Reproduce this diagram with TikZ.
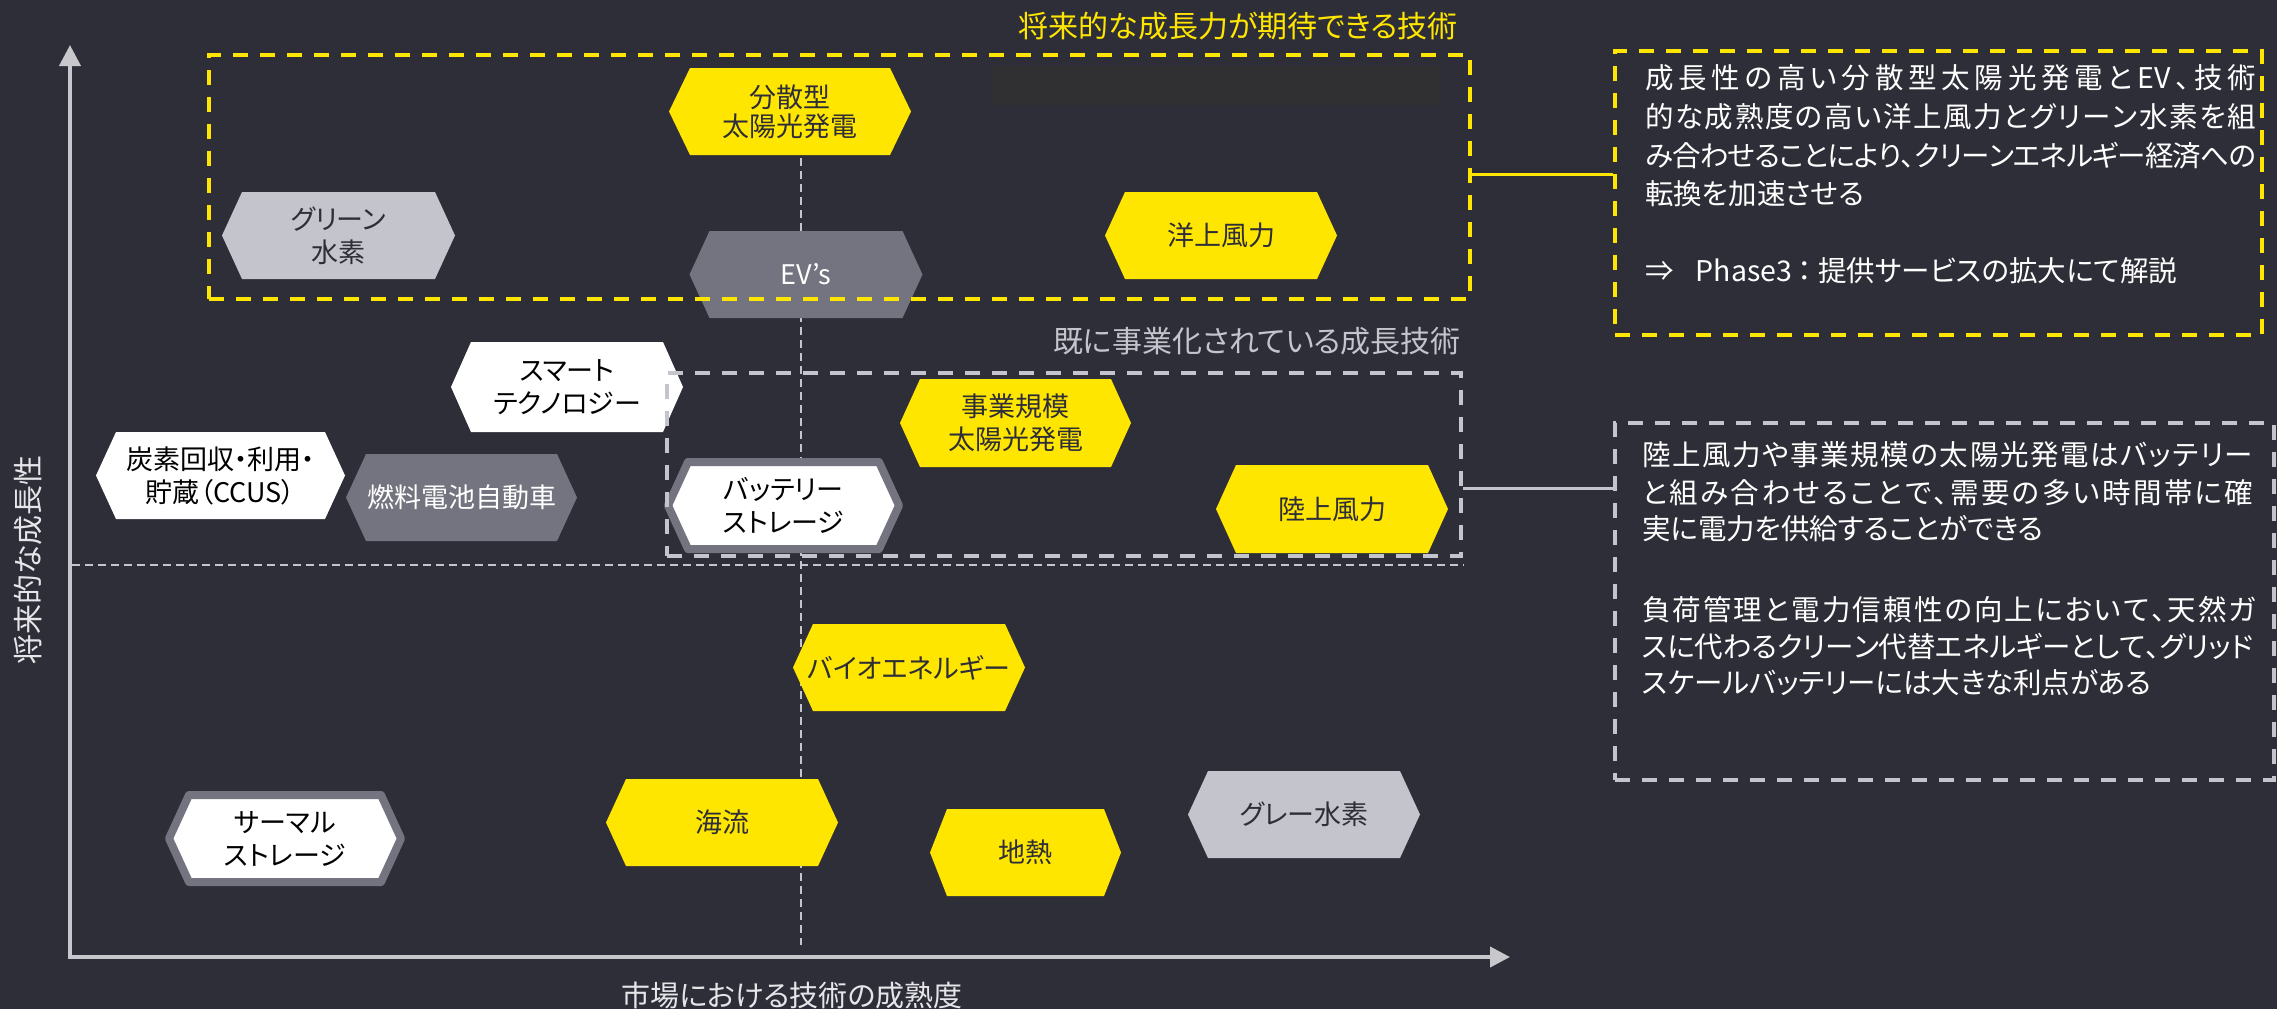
\documentclass[tikz,border=0pt]{standalone}
\usepackage{fontspec}
\setmainfont[RawFeature=+palt]{Noto Sans CJK JP}
\usetikzlibrary{arrows.meta}
\definecolor{bg}{HTML}{2E2E38}
\definecolor{eyy}{HTML}{FFE600}
\definecolor{g74}{HTML}{747480}
\definecolor{gC4}{HTML}{C4C4CD}
\definecolor{axiscol}{HTML}{C8C8CC}
\definecolor{ink}{HTML}{2E2E38}
\definecolor{patch}{HTML}{303032}
\definecolor{soft}{HTML}{E6E6EA}

% #1 name, #2 cx, #3 cy, #4 half width, #5 half height, #6 inset, #7 shape style, #8 text style, #9 text
\newcommand\hexa[9]{%
  \path[#7] ({#2-#4},#3) -- ({#2-#4+#6},{#3-#5}) -- ({#2+#4-#6},{#3-#5}) -- ({#2+#4},#3)
     -- ({#2+#4-#6},{#3+#5}) -- ({#2-#4+#6},{#3+#5}) -- cycle;
  \node[hexlbl,#8] (#1) at (#2,#3) {#9};
}
% justify one line to a given width by spreading glue between characters
\def\spreadend{}
\def\spreadendmark{\spreadend}
\def\spreadtext#1{\spreadfirst#1\spreadend}
\def\spreadfirst#1{#1\spreadrest}
\def\spreadrest#1{\def\sparg{#1}\ifx\sparg\spreadendmark\else\hskip 0pt plus 1fil minus 3pt\relax #1\expandafter\spreadrest\fi}
\newcommand\fullline[2]{\makebox[#1][s]{\spreadtext{#2}}}

\begin{document}
\begin{tikzpicture}[x=1pt,y=-1pt,
  hexlbl/.style={align=center, inner sep=0pt, font=\fontsize{27}{33}\selectfont},
  yfill/.style={fill=eyy},
  lgfill/.style={fill=gC4},
  dgfill/.style={fill=g74},
  wfill/.style={fill=white},
  wbord/.style={fill=white, draw=g74, line width=8pt, line join=round},
  darktxt/.style={text=ink},
  whitetxt/.style={text=white},
  blacktxt/.style={text=black},
  ydash/.style={draw=eyy, line width=4pt, dash pattern=on 15pt off 12pt},
  gdash/.style={draw=gC4, line width=4pt, dash pattern=on 15pt off 12pt},
  finedash/.style={draw=gC4, line width=2pt, dash pattern=on 8pt off 5pt},
  axisline/.style={draw=axiscol, line width=4pt},
  paneltxt/.style={anchor=west, inner sep=0pt, text=white, font=\fontsize{28.5}{38}\selectfont},
]
\useasboundingbox (0,0) rectangle (2277,1009);
\fill[bg] (0,0) rectangle (2277,1009);
\fill[patch] (992,66) rectangle (1439,105);

% grid lines
\draw[finedash] (801,158) -- (801,945);
\draw[finedash] (72,565) -- (1464,565);

% axes
\coordinate (origin) at (70,957);
\coordinate (ytip) at (70,45);
\coordinate (xtip) at (1510,957);
\draw[axisline, -{Triangle[length=21pt,width=21pt]}] ([yshift=-2pt]origin) -- (ytip);
\draw[axisline, -{Triangle[length=20pt,width=20pt]}] ([xshift=-2pt]origin) -- (xtip);

% hexagons
\hexa{bunsan}{790}{111.5}{121}{43.5}{21}{yfill}{darktxt,font=\fontsize{27}{29}\selectfont}{分散型\\太陽光発電}
\hexa{greenh}{338.5}{235.5}{116.5}{43.5}{20}{lgfill}{darktxt}{グリーン\\水素}
\hexa{ev}{806}{274.5}{116.5}{43.5}{20}{dgfill}{whitetxt}{EV’s}
\hexa{yojo}{1221}{235.5}{116}{43.5}{20}{yfill}{darktxt}{洋上風力}
\hexa{smart}{567}{387}{116}{45}{20}{wfill}{blacktxt}{スマート\\テクノロジー}
\hexa{ccus}{220.5}{475.5}{124.5}{43.5}{20}{wfill}{blacktxt}{炭素回収・利用・\\貯蔵（CCUS）}
\hexa{fuel}{461.5}{497.5}{115.5}{43.5}{20}{dgfill}{whitetxt}{燃料電池自動車}
\hexa{battery}{783.5}{505.5}{115.5}{43.5}{20}{wbord}{blacktxt}{バッテリー\\ストレージ}
\hexa{jigyo}{1015.5}{423}{115.5}{44}{20}{yfill}{darktxt}{事業規模\\太陽光発電}
\hexa{rikujo}{1332}{509}{116}{44}{20}{yfill}{darktxt}{陸上風力}
\hexa{bio}{909}{667.5}{116}{43.5}{20}{yfill}{darktxt}{バイオエネルギー}
\hexa{kairyu}{722}{822.5}{116}{43.5}{20}{yfill}{darktxt}{海流}
\hexa{chinetsu}{1025.5}{852.5}{95.5}{43.5}{17}{yfill}{darktxt}{地熱}
\hexa{grayh}{1304}{814.5}{116}{43.5}{20}{lgfill}{darktxt}{グレー水素}
\hexa{thermal}{285}{838.5}{116}{43.5}{20}{wbord}{blacktxt}{サーマル\\ストレージ}

% dashed group boxes
\node[ydash, minimum width=1261pt, minimum height=244pt, inner sep=0pt] (yellowbox) at (839.5,177) {};
\node[gdash, minimum width=794pt, minimum height=183pt, inner sep=0pt] (greybox) at (1064,464.5) {};

% titles
\node[anchor=east, inner sep=0pt, text=eyy, font=\fontsize{30}{36}\selectfont] (t1) at (1458,26) {将来的な成長力が期待できる技術};
\node[anchor=east, inner sep=0pt, text=gC4, font=\fontsize{30}{36}\selectfont] (t2) at (1461,341) {既に事業化されている成長技術};

% axis labels
\node[inner sep=0pt, text=soft, font=\fontsize{29}{34}\selectfont] (xlabel) at (792,995) {市場における技術の成熟度};
\node[rotate=90, inner sep=0pt, text=soft, font=\fontsize{30}{34}\selectfont] (ylabel) at (28,560) {将来的な成長性};

% text panels
\node[ydash, minimum width=647pt, minimum height=284pt, inner sep=0pt] (ypanel) at (1938.5,193) {};
\node[gdash, minimum width=659pt, minimum height=357pt, inner sep=0pt] (gpanel) at (1944.5,601.5) {};

\draw[draw=eyy, line width=3pt] ([yshift=3pt]yellowbox.east) -- ([yshift=3pt]yellowbox.east -| ypanel.west);
\draw[draw=gC4, line width=3pt] ([yshift=-23.5pt]greybox.east) -- ([yshift=-23.5pt]greybox.east -| gpanel.west);

\node[paneltxt] (ya) at (1645,78) {\fullline{611pt}{成長性の高い分散型太陽光発電と{EV}、技術}};
\node[paneltxt] (yb) at (1645,117) {\fullline{611pt}{的な成熟度の高い洋上風力とグリーン水素を組}};
\node[paneltxt] (yc) at (1645,156) {\fullline{611pt}{み合わせることにより、クリーンエネルギー経済への}};
\node[paneltxt] (yd) at (1645,194) {転換を加速させる};
\node[paneltxt] (ye) at (1645,271) {⇒\hspace{22pt}Phase3\hspace{6pt}：\hspace{6pt}提供サービスの拡大にて解説};

\node[paneltxt] (ga) at (1642,455) {\fullline{611pt}{陸上風力や事業規模の太陽光発電はバッテリー}};
\node[paneltxt] (gb) at (1642,493) {\fullline{611pt}{と組み合わせることで、需要の多い時間帯に確}};
\node[paneltxt] (gc) at (1642,529) {実に電力を供給することができる};
\node[paneltxt] (gd) at (1642,610) {\fullline{614pt}{負荷管理と電力信頼性の向上において、天然ガ}};
\node[paneltxt] (ge) at (1642,647) {\fullline{611pt}{スに代わるクリーン代替エネルギーとして、グリッド}};
\node[paneltxt] (gf) at (1642,683) {スケールバッテリーには大きな利点がある};
\end{tikzpicture}
\end{document}
